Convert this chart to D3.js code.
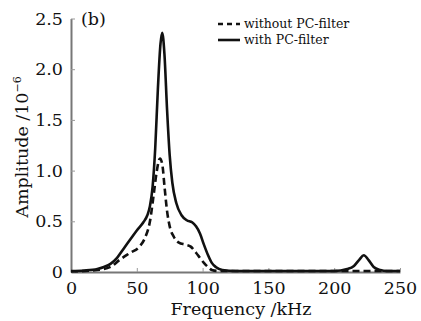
<!doctype html>
<html>
	<head>
		<script src="https://d3js.org/d3.v7.min.js"></script>
		<style>
		body { margin: 0; background: #fff; }
		svg { display: block; font-family: "DejaVu Serif", serif; }
		</style>
	</head>
	<body>
		<svg id="chart" width="421" height="321"></svg>
		<script>
		// spectrum readings (kHz, amplitude x1e-6)
		var freqWith  = [0, 10, 20, 25, 30, 35, 40, 45, 50, 55, 58, 60, 62, 64, 66, 68, 69.3, 71, 73, 75, 77, 80, 84, 88, 92, 95, 98, 101, 104, 107, 110, 115, 125, 200, 210, 215, 219, 222.5, 226, 230, 235, 240, 250];
		var ampWith   = [0.01, 0.015, 0.03, 0.05, 0.08, 0.14, 0.23, 0.32, 0.41, 0.49, 0.56, 0.65, 0.84, 1.22, 1.8, 2.25, 2.36, 2.15, 1.6, 1.15, 0.88, 0.68, 0.56, 0.51, 0.49, 0.45, 0.38, 0.27, 0.17, 0.09, 0.05, 0.02, 0.01, 0.01, 0.03, 0.06, 0.12, 0.165, 0.12, 0.05, 0.02, 0.01, 0.01];
		var freqWithout = [0, 20, 30, 37, 45, 52, 56, 60, 63, 65, 67.6, 69.5, 71, 73, 75, 78, 82, 87, 91, 95, 98, 101, 104, 107, 112, 250];
		var ampWithout  = [0.005, 0.02, 0.05, 0.12, 0.19, 0.25, 0.33, 0.5, 0.78, 0.98, 1.12, 1.05, 0.85, 0.6, 0.45, 0.35, 0.29, 0.27, 0.25, 0.19, 0.14, 0.09, 0.05, 0.02, 0.01, 0.01];
		var xTicks = [0, 50, 100, 150, 200, 250];
		var yTicks = [0, 0.5, 1.0, 1.5, 2.0, 2.5];

		var svg = d3.select("#chart");
		var x = d3.scaleLinear().domain([0, 250]).range([71, 400]);
		var y = d3.scaleLinear().domain([0, 2.5]).range([272, 18.5]);

		function pts(fs, as) { return fs.map(function(f, i) { return [f, as[i]]; }); }

		var line = d3.line()
			.x(function(d) { return x(d[0]); })
			.y(function(d) { return y(d[1]); })
			.curve(d3.curveMonotoneX);

		var xAxis = svg.append("g").attr("transform", "translate(0,272)")
			.call(d3.axisBottom(x).tickValues(xTicks).tickSizeInner(-4).tickSizeOuter(0).tickPadding(10)
				.tickFormat(function(d) { return d; }));
		var yAxis = svg.append("g").attr("transform", "translate(71,0)")
			.call(d3.axisLeft(y).tickValues(yTicks).tickSizeInner(-4).tickSizeOuter(0).tickPadding(8)
				.tickFormat(function(d) { return d === 0 ? "0" : d3.format(".1f")(d); }));

		[xAxis, yAxis].forEach(function(g) {
			g.select(".domain").attr("stroke", "#777").attr("stroke-width", 2);
			g.selectAll(".tick line").attr("stroke", "#999").attr("stroke-width", 1);
			g.selectAll("text").attr("fill", "#111").style("font-size", "17.5px").style("font-family", "DejaVu Serif, serif");
		});

		svg.append("path").datum(pts(freqWithout, ampWithout))
			.attr("d", line).attr("fill", "none").attr("stroke", "#111")
			.attr("stroke-width", 2.6).attr("stroke-dasharray", "7,4");
		svg.append("path").datum(pts(freqWith, ampWith))
			.attr("d", line).attr("fill", "none").attr("stroke", "#111")
			.attr("stroke-width", 2.6);

		svg.append("text").attr("x", 81).attr("y", 25).attr("font-size", 17.5).attr("fill", "#111").text("(b)");

		// legend
		var legend = [{label: "without PC-filter", dash: "5,4", y: 24}, {label: "with PC-filter", dash: null, y: 40}];
		legend.forEach(function(l) {
			svg.append("line").attr("x1", 218).attr("x2", 240).attr("y1", l.y).attr("y2", l.y)
				.attr("stroke", "#111").attr("stroke-width", 2.6).attr("stroke-dasharray", l.dash);
			svg.append("text").attr("x", 244).attr("y", l.y + 4).attr("font-size", 12.5).attr("fill", "#111").text(l.label);
		});

		svg.append("text").attr("x", 241).attr("y", 315).attr("text-anchor", "middle")
			.attr("font-size", 17.5).attr("fill", "#111").text("Frequency /kHz");
		svg.append("text").attr("transform", "translate(28,147) rotate(-90)").attr("text-anchor", "middle")
			.attr("font-size", 17.5).attr("fill", "#111")
			.text("Amplitude /10").append("tspan").attr("dy", -7).attr("font-size", 11).text("\u22126");
		</script>
	</body>
</html>
